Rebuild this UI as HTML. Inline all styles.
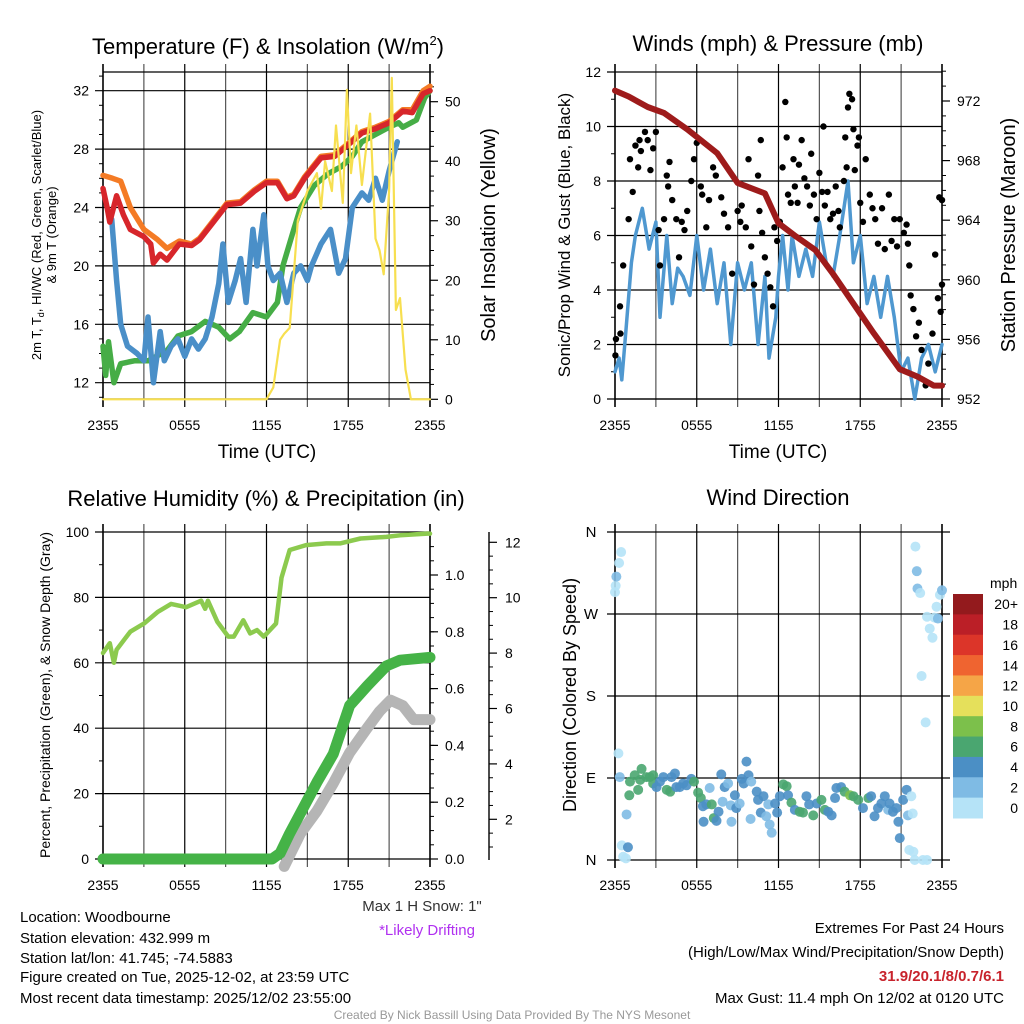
<!DOCTYPE html>
<html><head><meta charset="utf-8">
<style>
html,body{margin:0;padding:0;background:#fff;}
svg{display:block;font-family:"Liberation Sans",Arial,sans-serif;}
</style></head>
<body>
<svg id="fig" width="1024" height="1024" viewBox="0 0 1024 1024" xmlns="http://www.w3.org/2000/svg">
<rect width="1024" height="1024" fill="#fff"/>
<text x="268" y="54" font-size="22" text-anchor="middle">Temperature (F) &amp; Insolation (W/m<tspan font-size="13" dy="-9">2</tspan><tspan dy="9">)</tspan></text>
<text x="778" y="51" font-size="22" text-anchor="middle">Winds (mph) &amp; Pressure (mb)</text>
<text x="266" y="506" font-size="22" text-anchor="middle">Relative Humidity (%) &amp; Precipitation (in)</text>
<text x="778" y="505" font-size="22" text-anchor="middle">Wind Direction</text>
<text x="267" y="458" font-size="19" text-anchor="middle">Time (UTC)</text>
<text x="778" y="458" font-size="19" text-anchor="middle">Time (UTC)</text>
<text transform="translate(41,235) rotate(-90)" font-size="13" text-anchor="middle">2m T, T<tspan font-size="9" dy="3">d</tspan><tspan dy="-3">, HI/WC (Red, Green, Scarlet/Blue)</tspan></text>
<text transform="translate(56,235) rotate(-90)" font-size="13" text-anchor="middle">&amp; 9m T (Orange)</text>
<text transform="translate(495,235) rotate(-90)" font-size="20" text-anchor="middle">Solar Insolation (Yellow)</text>
<text transform="translate(570,235) rotate(-90)" font-size="17" text-anchor="middle">Sonic/Prop Wind &amp; Gust (Blue, Black)</text>
<text transform="translate(1015,235) rotate(-90)" font-size="20" text-anchor="middle">Station Pressure (Maroon)</text>
<text transform="translate(50,695) rotate(-90)" font-size="14" text-anchor="middle">Percent, Precipitation (Green), &amp; Snow Depth (Gray)</text>
<text transform="translate(576,695) rotate(-90)" font-size="18" text-anchor="middle">Direction (Colored By Speed)</text>
<text x="422" y="911" font-size="15" fill="#333" text-anchor="middle">Max 1 H Snow: 1"</text>
<text x="427" y="935" font-size="15" fill="#b030f0" text-anchor="middle">*Likely Drifting</text>
<g font-size="15">
<text x="20" y="922">Location: Woodbourne</text>
<text x="20" y="943">Station elevation: 432.999 m</text>
<text x="20" y="963">Station lat/lon: 41.745; -74.5883</text>
<text x="20" y="982">Figure created on Tue, 2025-12-02, at 23:59 UTC</text>
<text x="20" y="1003">Most recent data timestamp: 2025/12/02 23:55:00</text>
</g>
<g font-size="15" text-anchor="end">
<text x="1004" y="933">Extremes For Past 24 Hours</text>
<text x="1004" y="957">(High/Low/Max Wind/Precipitation/Snow Depth)</text>
<text x="1004" y="981" fill="#c8232c" font-weight="bold">31.9/20.1/8/0.7/6.1</text>
<text x="1004" y="1003">Max Gust: 11.4 mph On 12/02 at 0120 UTC</text>
</g>
<text x="512" y="1019" font-size="12" fill="#999" text-anchor="middle">Created By Nick Bassill Using Data Provided By The NYS Mesonet</text>
</svg>
<script>
// ---------- DATA ----------
const redH = [0,0.3,0.5,1,1.5,2,3,3.5,3.7,4.2,4.7,5.6,6.5,7.1,8.1,9.1,10.1,11.1,12,12.8,13.5,14,14.8,16,17,18,19,20,21,22,22.7,23.5,24];
const redT = [25.3,24,23,24.8,23.5,22.5,22,21.5,20.2,20.8,20.4,21.5,21.4,21.8,23,24.2,24.3,25.1,25.7,25.7,24.6,24.8,26,27.4,27.5,28.3,29.1,29.4,29.8,30.6,30.5,31.8,32];
const orgH = [0,0.7,1.3,2,3,4,4.7,5.6,6.5,7.1,8.1,9.1,10.1,11.1,12,12.8,13.5,14,14.8,16,17,18,19,20,21,22,22.7,23.5,24];
const orgT = [26.2,26,25.8,24,22.5,21.8,21.2,21.7,21.5,21.9,23.1,24.3,24.4,25.2,25.8,25.8,24.7,24.9,26.1,27.5,27.6,28.4,29.2,29.5,29.9,30.7,30.7,32,32.3];
const dewH = [0,0.2,0.4,0.8,1.3,2.3,3.3,4.7,5.5,6.5,7.5,8.5,9.3,10,11,12,12.8,13.2,14,14.5,15.5,16.5,17.5,18.3,19,20,21,21.7,22,23,23.6,24];
const dewT = [14.5,12.5,14.8,12,13.3,13.5,13.5,14.2,15.2,15.5,16.2,15.8,15,15.5,16.8,16.5,17.5,20,22.5,24,25.5,26.3,26.8,27.5,28.5,29,29.5,29.8,29.5,30,31.5,32];
const wcH = [0.64,1.0,1.3,1.8,2.5,3,3.3,3.7,4.2,4.5,5,5.5,6,6.5,7,7.5,8,8.5,8.8,9.2,9.7,10.1,10.5,11,11.3,11.8,12.1,12.5,13,13.5,14,14.5,15,15.3,16,16.7,17.3,17.8,18.3,19,19.5,20,20.5,21,21.6];
const wcT = [23.2,19,16,14.5,14,13.5,16.5,12,15.5,13.5,14.5,15,13.8,15,14.3,15,16.5,18.8,21.5,17.5,19,20.5,17.5,22.5,20,23.5,20,19,19.5,17.5,19.5,20,19,20,21.5,22.5,19.5,20.5,24,25,24.5,26,24.5,26.5,28.5];
const solH = [0,12,12.5,13,13.3,13.7,14.3,15,15.7,16,16.3,16.8,17.1,17.6,17.9,18.2,18.6,19,19.6,20,20.3,20.6,21,21.2,21.5,21.8,22.2,22.6,24];
const solI = [0,0,2,10,11,12,30,35,38,32,40,35,46,33,52,38,46,36,48,27,25,21,35,54,15,17,5,0,0];
const tempTicks = [12,16,20,24,28,32];
const solTicks = [0,10,20,30,40,50];
const timeLabels = ["2355","0555","1155","1755","2355"];
const spdH = [0,0.3,0.5,0.8,1.2,1.5,2,2.5,3,3.3,3.8,4.2,4.6,5,5.5,6,6.5,7,7.5,8,8.5,9,9.5,10,10.5,11,11.3,11.8,12,12.3,12.7,13,13.5,14,14.5,15,15.5,16,16.5,17.1,17.5,18,18.5,19,19.5,20,20.5,21,21.5,22,22.5,23,23.5,24];
const spdV = [1,1.5,0.7,2.5,5,6,7,5.5,6.5,3,6,3.5,4.8,4.5,3.8,6,4,5.5,3.5,5,2,5,4,5,2,4.5,1.5,3,4.5,6,4,6,4.5,5.5,4.5,6.5,5,4.5,6,8,5,6,3.5,4.5,3,4.5,3,1,1.5,0,1.5,2,1,2];
const presH = [0,1,2.4,3.6,5.3,7.5,9,11,12,13.3,14.7,16,17.5,19,20.9,22.2,23.4,24];
const presV = [972.7,972.3,971.6,971.2,970.1,968.5,966.5,965.8,963.8,962.9,962,960.4,958.4,956.4,954,953.5,952.9,952.9];
const gustH = [0.03,0.07,0.4,0.37,0.6,1,1.1,1.3,1.5,1.7,1.8,1.9,2.2,2.4,2.6,2.8,3,3.2,3.3,3.6,3.8,3.9,4,4.2,4.5,4.7,4.9,5.1,5.3,5.6,5.8,6,6.3,6.4,6.7,6.9,7.2,7.4,7.8,8,8.3,8.6,9,9.2,9.3,9.6,9.8,10,10.2,10.5,10.6,10.7,10.8,11,11.2,11.4,11.6,11.7,11.9,12.1,12.3,12.5,12.6,12.7,12.9,13.1,13.2,13.4,13.5,13.7,13.9,14.1,14.3,14.4,14.6,14.8,15,15.2,15.3,15.4,15.6,15.8,16,16.2,16.4,16.5,16.8,16.9,17,17.1,17.2,17.4,17.5,17.6,17.8,17.9,18,18.2,18.4,18.7,18.9,19.1,19.3,19.6,19.8,20.1,20.3,20.5,20.7,20.9,21.2,21.4,21.5,21.6,21.7,21.9,22.1,22.3,22.5,22.8,23,23.3,23.5,23.7,23.8,23.9,24,24];
const gustV = [1.6,2.2,2.4,3.4,4.9,6.6,8.8,7.6,9.3,8.5,9.5,9.1,9.8,9.5,8.4,9.2,9.8,6.2,4.9,6.6,8.2,7.8,8.7,7.3,6.6,5.2,6.5,6.2,6.9,8,8.8,9.4,7.8,7.5,6.3,7.3,8.5,8.2,7.4,6.8,6.3,4.6,6.9,6.5,7.1,6.3,8.8,5.6,4.2,8.2,6.9,9.5,6.1,5.2,4.6,4.1,3.4,6.3,5.8,6.5,8.5,10.9,9.6,7.5,7.2,8.8,7.8,7.2,8.6,9.5,8.1,7.8,7.1,9,7.5,6.6,8.3,7.6,10,7.1,7.6,6.6,6.8,7.8,6.9,6.3,8,9.6,8.5,10.7,11.2,11,9.9,8.4,9.3,9.6,7.2,6.5,8.8,7.5,7,6.6,5.7,7,5.5,7.5,5.8,6.6,5.6,6.6,6.1,6.4,5.7,4.9,3.8,3.3,2.3,2.8,1.8,0.5,1.3,2.4,5.3,3.7,7.4,3.2,4.2,7.3];
const windTicks = [0,2,4,6,8,10,12];
const presTicks = [952,956,960,964,968,972];
const rhH = [0,0.5,0.8,1,2,3,4,5,6.1,7.2,7.5,7.7,8.4,9.2,9.6,10.3,10.8,11.3,11.8,12.7,13.1,13.7,14.9,16.4,17.4,18.9,20.8,21.8,23.8,24];
const rhV = [63,66,60,64,69.5,72,75.5,78,77,79,76.5,79,72.5,68,68,73,69,70,68,72,86,94.5,96,96.5,96.5,98,98.5,99,99.5,99.5];
const prcH = [0,12.4,13,13.7,15.7,16.9,18.1,19.4,20.8,21.8,24];
const prcV = [0,0,0.02,0.09,0.27,0.37,0.54,0.61,0.68,0.70,0.71];
const snowH = [13.3,13.5,14.5,15.7,16.9,18.1,19.4,20.3,21.1,22,22.8,24];
const snowV = [0.3,0.5,1.5,2.3,3.3,4.4,5.3,5.9,6.3,6.1,5.6,5.6];
const rhTicks = [0,20,40,60,80,100];
const prcTicks = ["0.0","0.2","0.4","0.6","0.8","1.0"];
const snowTicks = [2,4,6,8,10,12];
const dirH = [0,0.05,0.1,0.3,0.45,0.25,0.35,0.85,0.5,0.6,0.8,0.95,1.05,1.1,1.45,1.7,1.85,1.95,2.3,2.55,2.8,2.8,3.05,3.3,3.55,3.8,4.05,4.15,4.4,4.5,4.75,5.0,5.25,5.6,5.8,6.1,6.3,6.45,6.5,6.7,6.95,7.1,7.25,7.45,7.6,7.8,7.9,8.05,8.3,8.5,8.55,8.8,8.9,9.15,9.3,9.45,9.65,9.8,10.0,9.95,10.4,10.5,10.7,10.9,11.1,11.25,11.35,11.5,11.75,11.9,12.1,12.35,12.6,12.7,12.95,13.2,13.55,13.8,14.05,14.25,14.55,14.8,15.15,15.4,15.65,15.9,16.15,16.25,16.6,16.85,17.25,17.5,17.85,18.2,18.6,18.8,19.05,19.3,19.55,19.8,20.05,20.15,20.4,20.65,20.8,20.9,21.15,21.4,21.5,21.75,21.85,21.6,21.9,22.0,22.6,22.9,22.05,22.15,22.2,22.4,22.5,22.8,22.9,23.1,23.3,23.45,23.6,23.7,23.85,24.0];
const dirV = [294,301,311,326,338,117,91,50,16,3.5,1.8,14,71,86,93,77,88,100,91,91,93,84,80,86,91,77,75,91,95,80,80,84,82,89,86,74,68,59,42,61,79,61,46,43,53,94,64,80,84,60,42,71,57,62,89,84,108,93,86,45,75,66,52,70,48,61,39,30,62,52,70,83,81,71,63,55,53,52,70,61,49,62,66,55,53,49,68,79,80,75,71,70,66,57,68,70,48,57,62,70,55,62,53,57,42,24,66,77,49,70,51,11,9,0,0,0,344,317,298,293,202,151,267,254,244,266,278,265,291,296];
const dirSpd = [1,1,3,1,1,1,3,3,1,1,1,5,7,7,7,7,7,7,7,7,7,7,5,5,5,7,7,5,5,5,5,5,5,5,7,7,7,5,5,5,3,7,7,5,5,5,3,5,3,3,3,5,5,3,5,5,5,5,3,3,5,5,5,5,3,3,3,3,5,5,5,7,7,5,7,5,7,7,5,5,7,5,7,7,5,5,5,5,5,7,9,7,7,5,7,5,5,5,5,5,3,5,5,5,5,5,5,5,3,1,1,1,1,1,1,1,1,3,3,1,1,1,1,1,1,1,1,3,1,3,3];
const dirLabels = ["N","E","S","W","N"];
const cbLabels = ["20+","18","16","14","12","10","8","6","4","2","0"];
const cbColors = ["#931a1d","#bb1f27","#dc3529","#ef6430","#f5a547","#e5e05b","#7cc04b","#4aa670","#4b8fc5","#7fbbe4","#b5e3f7"];

// ---------- HELPERS ----------
const svg = document.getElementById('fig');
const NS = 'http://www.w3.org/2000/svg';
function mk(tag, parent){ const e=document.createElementNS(NS,tag); (parent||svg).appendChild(e); return e; }
function line(x1,y1,x2,y2,stroke,w,parent){ const l=mk('line',parent); l.setAttribute('x1',x1);l.setAttribute('y1',y1);l.setAttribute('x2',x2);l.setAttribute('y2',y2);l.setAttribute('stroke',stroke);l.setAttribute('stroke-width',w); return l; }
function txt(x,y,s,size,anchor,parent){ const t=mk('text',parent); t.setAttribute('x',x);t.setAttribute('y',y);t.setAttribute('font-size',size);t.setAttribute('text-anchor',anchor);t.textContent=s; return t; }
function pathFrom(xs,ys,fx,fy){ let d=''; for(let i=0;i<xs.length;i++){ d+=(i?'L':'M')+fx(xs[i]).toFixed(1)+','+fy(ys[i]).toFixed(1); } return d; }
function series(name,xs,ys,fx,fy,color,w,parent){
  const p=mk('path',parent);
  
  
  p.setAttribute('d',pathFrom(xs,ys,fx,fy));
  p.setAttribute('fill','none');p.setAttribute('stroke',color);p.setAttribute('stroke-width',w);
  p.setAttribute('stroke-linecap','round');p.setAttribute('stroke-linejoin','round');
  return p;
}
function clip(id,x,y,w,h){ const c=mk('clipPath'); c.setAttribute('id',id); const r=mk('rect',c); r.setAttribute('x',x);r.setAttribute('y',y);r.setAttribute('width',w);r.setAttribute('height',h); }
function frame(name,x0,x1,yT,yB){
  const g=mk('g');
  
  
  for(let k=0;k<=8;k++){ const x=x0+(x1-x0)*k/8; line(x,yT-8,x,yB+8,(k%2)?'#555':'#000',(k===0||k===8)?1.6:1.2,g); }
  return g;
}
function xLabels(g,x0,x1,y){ timeLabels.forEach((s,i)=>{ txt(x0+(x1-x0)*i/4,y,s,14,'middle',g); }); }

// ---------- PANEL 1 ----------
const p1 = {x0:103,x1:430,yT:72,yB:399};
const hx1 = h => p1.x0 + h*(p1.x1-p1.x0)/24;
const tY = T => 382.7 - (T-12)*14.6;
const iY = I => 399.3 - I*5.952;
const g1 = frame('temp-panel', p1.x0,p1.x1,p1.yT,p1.yB);
tempTicks.forEach(v=>{ line(p1.x0-8,tY(v),p1.x1,tY(v),'#000',1.2,g1); txt(p1.x0-14,tY(v)+5,String(v),14,'end',g1); });
for(let v=11;v<=33;v++){ if(v%4) line(p1.x0-4,tY(v),p1.x0,tY(v),'#000',1,g1); }
solTicks.forEach(v=>{ line(p1.x1,iY(v),p1.x1+8,iY(v),'#000',1.2,g1); txt(p1.x1+15,iY(v)+5,String(v),14,'start',g1); });
for(let v=0;v<=55;v+=2.5){ if(v%10) line(p1.x1,iY(v),p1.x1+4,iY(v),'#000',1,g1); }
line(p1.x0,p1.yT,p1.x1,p1.yT,'#000',1.2,g1); line(p1.x0,p1.yB,p1.x1,p1.yB,'#000',1.2,g1);
xLabels(g1,p1.x0,p1.x1,430);
clip('c1',p1.x0-6,p1.yT,p1.x1-p1.x0+12,p1.yB-p1.yT+4);
const s1=mk('g'); s1.setAttribute('clip-path','url(#c1)');
series('dewpoint-line',dewH,dewT,hx1,tY,'#46ad46',5.5,s1);
series('wind-chill-line',wcH,wcT,hx1,tY,'#4a8fc8',5.5,s1);
series('temp-9m-line',orgH,orgT,hx1,tY,'#f47b25',5.5,s1);
series('temp-2m-line',redH,redT,hx1,tY,'#d7262b',5.5,s1);
series('insolation-line',solH,solI,hx1,iY,'#f7df50',2.2,s1);

// ---------- PANEL 2 ----------
const p2 = {x0:615,x1:942,yT:72,yB:399};
const hx2 = h => p2.x0 + h*(p2.x1-p2.x0)/24;
const wY = w => 399 - w*27.25;
const pY = P => 399 - (P-952)*14.9;
const g2 = frame('wind-panel', p2.x0,p2.x1,p2.yT,p2.yB);
windTicks.forEach(v=>{ line(p2.x0-8,wY(v),p2.x1,wY(v),'#000',1.2,g2); txt(p2.x0-14,wY(v)+5,String(v),14,'end',g2); });
for(let v=1;v<12;v+=2) line(p2.x0-4,wY(v),p2.x0,wY(v),'#000',1,g2);
presTicks.forEach(v=>{ line(p2.x1,pY(v),p2.x1+8,pY(v),'#000',1.2,g2); txt(p2.x1+15,pY(v)+5,String(v),14,'start',g2); });
for(let v=952;v<=974;v++){ if(v%4) line(p2.x1,pY(v),p2.x1+4,pY(v),'#000',1,g2); }
line(p2.x0,p2.yB,p2.x1,p2.yB,'#000',1.2,g2);
xLabels(g2,p2.x0,p2.x1,430);
clip('c2',p2.x0-6,p2.yT-4,p2.x1-p2.x0+12,p2.yB-p2.yT+8);
const s2=mk('g'); s2.setAttribute('clip-path','url(#c2)');
series('wind-speed-line',spdH,spdV,hx2,wY,'#4f98d0',3.5,s2);
const gg=mk('g',s2);


gustH.forEach((h,i)=>{ const c=mk('circle',gg);
  
  
  c.setAttribute('cx',hx2(h)); c.setAttribute('cy',wY(gustV[i])); c.setAttribute('r',3.2); c.setAttribute('fill','#000'); });
series('pressure-line',presH,presV,hx2,pY,'#9e1b1b',6,s2);

// ---------- PANEL 3 ----------
const p3 = {x0:103,x1:430,yT:532,yB:859};
const hx3 = h => p3.x0 + h*(p3.x1-p3.x0)/24;
const rY = v => 859 - v*3.27;
const prY = v => 859 - v*284;
const sY = v => 874.7 - v*27.7;
const g3 = frame('rh-panel', p3.x0,p3.x1,p3.yT,p3.yB);
rhTicks.forEach(v=>{ line(p3.x0-8,rY(v),p3.x1,rY(v),'#000',1.2,g3); txt(p3.x0-14,rY(v)+5,String(v),14,'end',g3); });
for(let v=10;v<100;v+=20) line(p3.x0-4,rY(v),p3.x0,rY(v),'#000',1,g3);
prcTicks.forEach(s=>{ const v=parseFloat(s); line(p3.x1,prY(v),p3.x1+8,prY(v),'#000',1.2,g3); txt(p3.x1+15,prY(v)+5,s,14,'start',g3); });
for(let v=0.05;v<1.15;v+=0.05){ line(p3.x1,prY(v),p3.x1+4,prY(v),'#000',1,g3); }
line(489,532,489,860,'#000',1.4,g3);
snowTicks.forEach(v=>{ line(489,sY(v),497,sY(v),'#000',1.2,g3); txt(505,sY(v)+5,String(v),14,'start',g3); });
for(let v=1;v<=11.5;v+=0.5){ if(v%2) line(489,sY(v),493,sY(v),'#000',1,g3); }
xLabels(g3,p3.x0,p3.x1,890);
series('rh-line',rhH,rhV,hx3,rY,'#8cca4e',4.5);
series('snow-depth-line',snowH,snowV,hx3,sY,'#b5b5b5',11);
series('precip-line',prcH,prcV,hx3,prY,'#45b347',11);

// ---------- PANEL 4 ----------
const p4 = {x0:615,x1:942,yT:532,yB:860};
const hx4 = h => p4.x0 + h*(p4.x1-p4.x0)/24;
const dY = d => 860 - d*(328/360);
const g4 = frame('dir-panel', p4.x0,p4.x1,p4.yT,p4.yB);
dirLabels.forEach((s,i)=>{ const y=dY(i*90); line(p4.x0-8,y,p4.x1+8,y,'#000',1.2,g4); txt(591,y+5,s,15,'middle',g4); });
xLabels(g4,p4.x0,p4.x1,890);
function spdColor(s){ let idx=Math.min(10,Math.floor(s/2)); return cbColors[10-idx]; }
const dg=mk('g');


dirH.forEach((h,i)=>{ const c=mk('circle',dg);
  
  
  c.setAttribute('cx',hx4(h)); c.setAttribute('cy',dY(dirV[i])); c.setAttribute('r',5); c.setAttribute('fill',spdColor(dirSpd[i])); c.setAttribute('fill-opacity',0.9); });
const cb=mk('g');


const cbTop=594, cbH=224/11;
cbColors.forEach((col,i)=>{ const r=mk('rect',cb);
  
  
  r.setAttribute('x',953); r.setAttribute('y',cbTop+i*cbH); r.setAttribute('width',30); r.setAttribute('height',cbH+0.5); r.setAttribute('fill',col);
  txt(1018,cbTop+i*cbH+cbH/2+5,cbLabels[i],14,'end',cb); });
txt(990,588,'mph',14,'start',cb);
</script>
</body></html>
